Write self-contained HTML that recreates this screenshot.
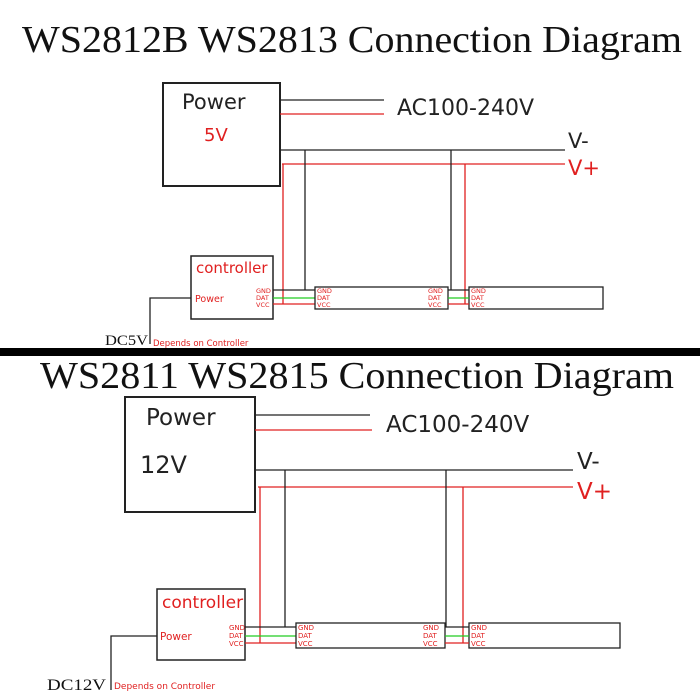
<!DOCTYPE html>
<html><head><meta charset="utf-8"><style>
html,body{margin:0;padding:0;background:#fff;}
svg{display:block;}
.s{font-family:"Liberation Serif",serif;fill:#111;}
.a{font-family:"DejaVu Sans","Liberation Sans",sans-serif;}
</style></head><body>
<svg width="700" height="700" viewBox="0 0 700 700" xmlns="http://www.w3.org/2000/svg">
<rect width="700" height="700" fill="#fff"/>
<text class="s" x="22" y="52" font-size="38" textLength="660" lengthAdjust="spacingAndGlyphs">WS2812B WS2813 Connection Diagram</text>
<rect x="163" y="83" width="117" height="103" fill="none" stroke="#222" stroke-width="2"/>
<text class="a" x="182" y="109" font-size="21" fill="#222">Power</text>
<text class="a" x="204" y="141" font-size="18" fill="#e02020">5V</text>
<line x1="280" y1="100" x2="384" y2="100" stroke="#222" stroke-width="1.3"/>
<line x1="280" y1="114" x2="384" y2="114" stroke="#e02020" stroke-width="1.3"/>
<text class="a" x="397" y="115" font-size="22" fill="#222">AC100-240V</text>
<line x1="280" y1="150" x2="565" y2="150" stroke="#222" stroke-width="1.3"/>
<line x1="282" y1="164" x2="565" y2="164" stroke="#e02020" stroke-width="1.3"/>
<text class="a" x="568" y="148" font-size="21" fill="#222">V-</text>
<text class="a" x="568" y="175" font-size="21" fill="#e02020">V+</text>
<line x1="283" y1="164" x2="283" y2="304" stroke="#e02020" stroke-width="1.3"/>
<line x1="305" y1="150" x2="305" y2="290" stroke="#222" stroke-width="1.3"/>
<line x1="451" y1="150" x2="451" y2="290" stroke="#222" stroke-width="1.3"/>
<line x1="465" y1="164" x2="465" y2="304" stroke="#e02020" stroke-width="1.3"/>
<rect x="191" y="256" width="82" height="63" fill="none" stroke="#222" stroke-width="1.5"/>
<text class="a" x="196" y="273" font-size="15" fill="#e02020">controller</text>
<text class="a" x="195" y="302" font-size="9.5" fill="#e02020">Power</text>
<text class="a" x="256" y="293" font-size="6.5" fill="#e02020">GND</text>
<text class="a" x="256" y="300" font-size="6.5" fill="#e02020">DAT</text>
<text class="a" x="256" y="307" font-size="6.5" fill="#e02020">VCC</text>
<line x1="273" y1="290" x2="315" y2="290" stroke="#222" stroke-width="1.3"/>
<line x1="273" y1="298" x2="315" y2="298" stroke="#2c2" stroke-width="1.3"/>
<line x1="273" y1="304" x2="315" y2="304" stroke="#e02020" stroke-width="1.3"/>
<rect x="315" y="287" width="133" height="22" fill="none" stroke="#222" stroke-width="1.3"/>
<rect x="469" y="287" width="134" height="22" fill="none" stroke="#222" stroke-width="1.3"/>
<line x1="448" y1="290" x2="469" y2="290" stroke="#222" stroke-width="1.3"/>
<line x1="448" y1="298" x2="469" y2="298" stroke="#2c2" stroke-width="1.3"/>
<line x1="448" y1="304" x2="469" y2="304" stroke="#e02020" stroke-width="1.3"/>
<g class="a" font-size="6.5" fill="#e02020">
<text x="317" y="293">GND</text><text x="317" y="300">DAT</text><text x="317" y="307">VCC</text>
<text x="428" y="293">GND</text><text x="428" y="300">DAT</text><text x="428" y="307">VCC</text>
<text x="471" y="293">GND</text><text x="471" y="300">DAT</text><text x="471" y="307">VCC</text>
</g>
<polyline points="191,298 150,298 150,344" fill="none" stroke="#222" stroke-width="1.3"/>
<text class="s" x="105" y="345" font-size="15" textLength="43" lengthAdjust="spacingAndGlyphs">DC5V</text>
<text class="a" x="153" y="346" font-size="8.5" fill="#e02020">Depends on Controller</text>
<rect x="0" y="348" width="700" height="8" fill="#000"/>
<text class="s" x="40" y="388" font-size="38" textLength="634" lengthAdjust="spacingAndGlyphs">WS2811 WS2815 Connection Diagram</text>
<rect x="125" y="397" width="130" height="115" fill="none" stroke="#222" stroke-width="2"/>
<text class="a" x="146" y="425" font-size="23" fill="#222">Power</text>
<text class="a" x="140" y="473" font-size="24" fill="#222">12V</text>
<line x1="255" y1="415" x2="370" y2="415" stroke="#222" stroke-width="1.3"/>
<line x1="255" y1="430" x2="372" y2="430" stroke="#e02020" stroke-width="1.3"/>
<text class="a" x="386" y="432" font-size="23" fill="#222">AC100-240V</text>
<line x1="255" y1="470" x2="573" y2="470" stroke="#222" stroke-width="1.3"/>
<line x1="258" y1="487" x2="573" y2="487" stroke="#e02020" stroke-width="1.3"/>
<text class="a" x="577" y="469" font-size="23" fill="#222">V-</text>
<text class="a" x="577" y="499" font-size="23" fill="#e02020">V+</text>
<line x1="260" y1="487" x2="260" y2="643" stroke="#e02020" stroke-width="1.3"/>
<line x1="285" y1="470" x2="285" y2="627" stroke="#222" stroke-width="1.3"/>
<line x1="446" y1="470" x2="446" y2="627" stroke="#222" stroke-width="1.3"/>
<line x1="463" y1="487" x2="463" y2="643" stroke="#e02020" stroke-width="1.3"/>
<rect x="157" y="589" width="88" height="71" fill="none" stroke="#222" stroke-width="1.5"/>
<text class="a" x="162" y="608" font-size="17" fill="#e02020">controller</text>
<text class="a" x="160" y="640" font-size="10.5" fill="#e02020">Power</text>
<text class="a" x="229" y="630" font-size="7" fill="#e02020">GND</text>
<text class="a" x="229" y="638" font-size="7" fill="#e02020">DAT</text>
<text class="a" x="229" y="646" font-size="7" fill="#e02020">VCC</text>
<line x1="245" y1="627" x2="296" y2="627" stroke="#222" stroke-width="1.3"/>
<line x1="245" y1="636" x2="296" y2="636" stroke="#2c2" stroke-width="1.3"/>
<line x1="245" y1="643" x2="296" y2="643" stroke="#e02020" stroke-width="1.3"/>
<rect x="296" y="623" width="149" height="25" fill="none" stroke="#222" stroke-width="1.3"/>
<rect x="469" y="623" width="151" height="25" fill="none" stroke="#222" stroke-width="1.3"/>
<line x1="445" y1="627" x2="469" y2="627" stroke="#222" stroke-width="1.3"/>
<line x1="445" y1="636" x2="469" y2="636" stroke="#2c2" stroke-width="1.3"/>
<line x1="445" y1="643" x2="469" y2="643" stroke="#e02020" stroke-width="1.3"/>
<g class="a" font-size="7" fill="#e02020">
<text x="298" y="630">GND</text><text x="298" y="638">DAT</text><text x="298" y="646">VCC</text>
<text x="423" y="630">GND</text><text x="423" y="638">DAT</text><text x="423" y="646">VCC</text>
<text x="471" y="630">GND</text><text x="471" y="638">DAT</text><text x="471" y="646">VCC</text>
</g>
<polyline points="157,636 111,636 111,690" fill="none" stroke="#222" stroke-width="1.3"/>
<text class="s" x="47" y="690" font-size="16" textLength="59" lengthAdjust="spacingAndGlyphs">DC12V</text>
<text class="a" x="114" y="689" font-size="9" fill="#e02020">Depends on Controller</text>
</svg>
</body></html>
